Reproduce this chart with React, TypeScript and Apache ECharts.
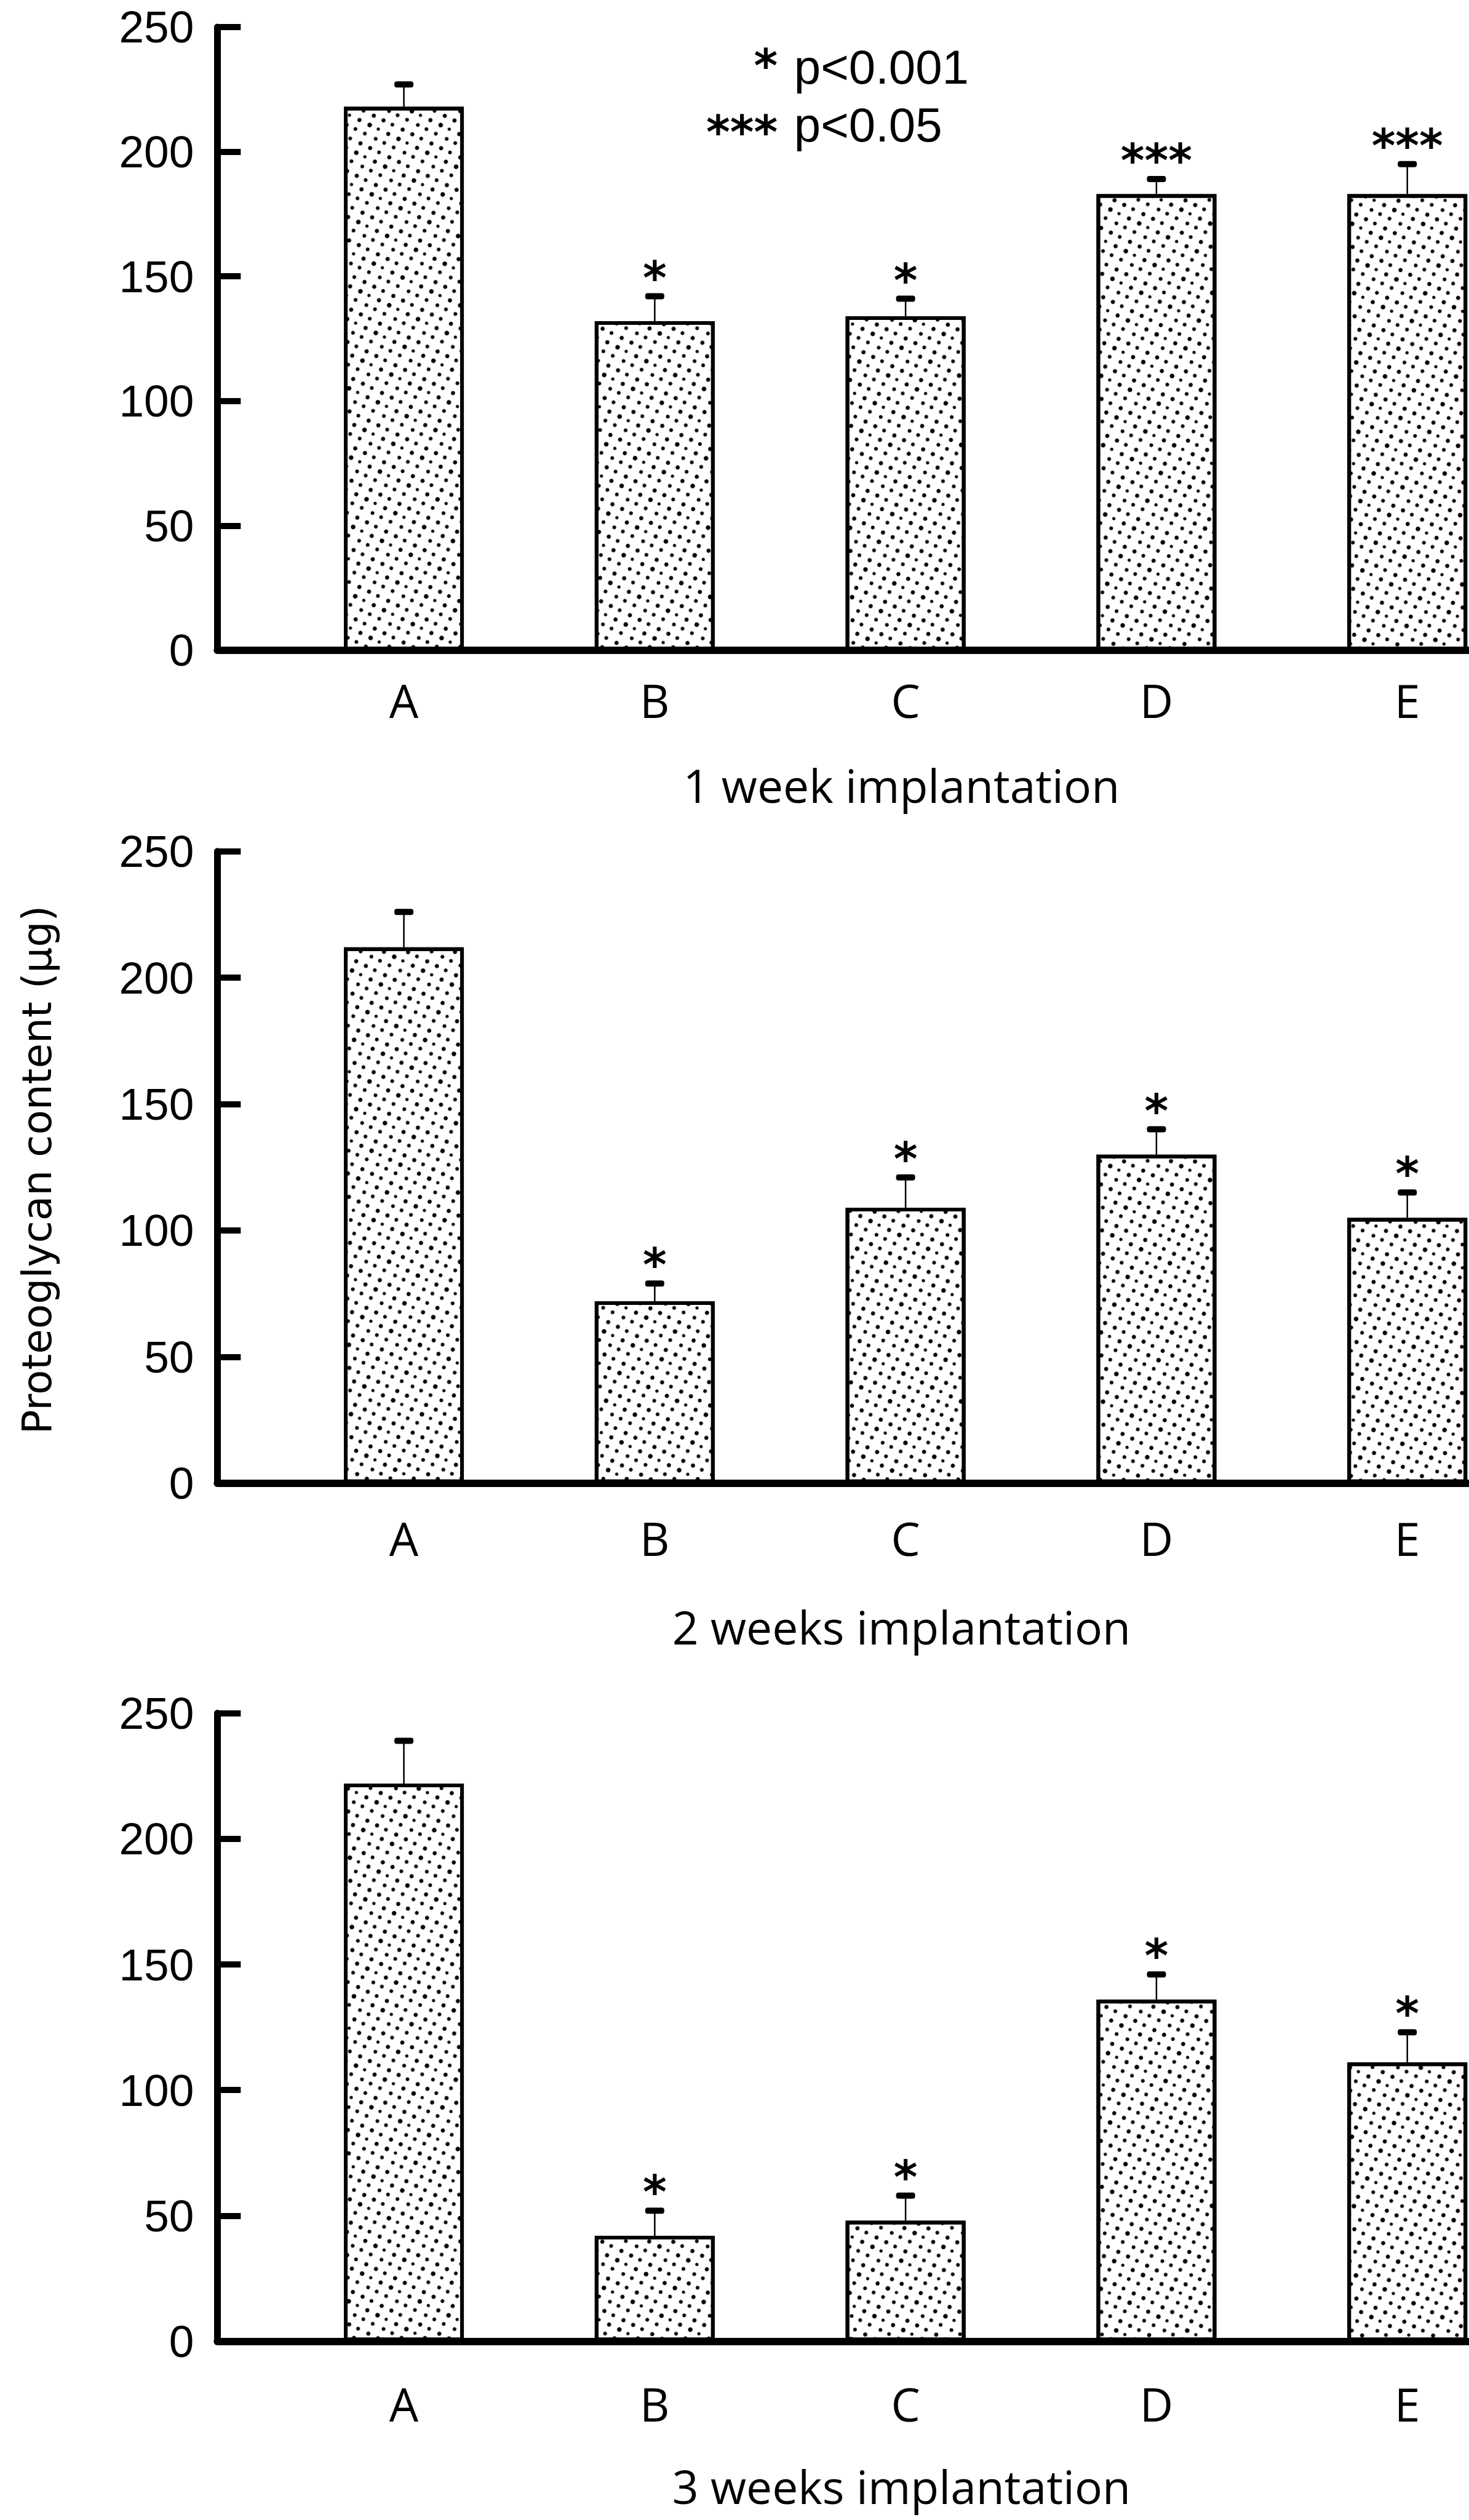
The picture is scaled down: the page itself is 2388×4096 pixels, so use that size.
import React, { useEffect, useRef } from 'react';
import * as echarts from 'echarts';

// ---------- data ----------
const categories = ['A', 'B', 'C', 'D', 'E'];

const week1Means = [218, 132, 134, 183, 183];
const week1Upper = [227, 142, 141, 189, 195];
const week1Stars = ['', '*', '*', '***', '***'];

const week2Means = [212, 72, 109, 130, 105];
const week2Upper = [226, 79, 121, 140, 115];
const week2Stars = ['', '*', '*', '*', '*'];

const week3Means = [222, 42, 48, 136, 111];
const week3Upper = [239, 52, 58, 146, 123];
const week3Stars = ['', '*', '*', '*', '*'];

const panelTitles = ['1 week implantation', '2 weeks implantation', '3 weeks implantation'];
const yAxisTitle = 'Proteoglycan content (\u03bcg)';
const legendStars = ['*', '***'];
const legendTexts = ['p<0.001', 'p<0.05'];
const yMin = 0;
const yMax = 250;
const yInterval = 50;

// ---------- layout (reference px, scaled) ----------
const S = 0.6188;
const W = 2388;
const H = 4096;
const AXIS_X = 571;
const CAT0 = 1061;
const CAT_STEP = 659;
const XMIN = -(CAT0 - AXIS_X) / CAT_STEP;
const XMAX = XMIN + (W / S - AXIS_X) / CAT_STEP;

const panels = [
  { top: 71, bottom: 1708, labelDist: 44, titleY: 2062, means: week1Means, upper: week1Upper, stars: week1Stars },
  { top: 2236, bottom: 3896, labelDist: 52, titleY: 4272, means: week2Means, upper: week2Upper, stars: week2Stars },
  { top: 4500, bottom: 6150, labelDist: 64, titleY: 6530, means: week3Means, upper: week3Upper, stars: week3Stars },
];

const STAR_FONT = 'bold 74px "DejaVu Sans"';
const STAR_SHIFT = 14;

function makeDecal() {
  return {
    symbol: 'circle',
    symbolSize: 0.68,
    color: '#000',
    backgroundColor: '#fff',
    dashArrayX: [
      [10, 7, 11, 6, 9, 9],
      [11, 6, 8, 9, 10, 8],
      [9, 10, 10, 6, 9, 8],
    ],
    dashArrayY: [10, 6, 11, 6, 9, 8],
    rotation: 0.45,
  };
}

function makeErrRender(stars: string[]) {
  return (params: any, api: any) => {
    const x = api.value(0);
    const p0 = api.coord([x, api.value(1)]);
    const p1 = api.coord([x, api.value(2)]);
    return {
      type: 'group',
      children: [
        {
          type: 'line',
          shape: { x1: p0[0], y1: p0[1], x2: p1[0], y2: p1[1] },
          style: { stroke: '#000', lineWidth: 2.5 },
        },
        {
          type: 'rect',
          shape: { x: p1[0] - 15.5, y: p1[1] - 5, width: 31, height: 10, r: 4 },
          style: { fill: '#000' },
        },
        {
          type: 'text',
          x: p1[0],
          y: p1[1] - 44 + STAR_SHIFT,
          style: {
            text: stars[params.dataIndex],
            fill: '#000',
            font: STAR_FONT,
            align: 'center',
            verticalAlign: 'middle',
            textAlign: 'center',
            textVerticalAlign: 'middle',
          },
        },
      ],
    };
  };
}

function buildOption() {
  const grid = panels.map((p) => ({
    left: AXIS_X * S,
    right: 0,
    top: p.top * S,
    height: (p.bottom - p.top) * S,
  }));

  const xAxis = panels.map((p, i) => ({
    type: 'value',
    gridIndex: i,
    min: XMIN,
    max: XMAX,
    axisLine: { show: true, onZero: false, lineStyle: { color: '#000', width: 12 } },
    axisTick: { show: false },
    axisLabel: { show: false },
    splitLine: { show: false },
  }));

  const yAxis = panels.map((p, i) => ({
    type: 'value',
    gridIndex: i,
    min: yMin,
    max: yMax,
    interval: yInterval,
    axisLine: { show: true, onZero: false, lineStyle: { color: '#000', width: 11 } },
    axisTick: { show: true, inside: true, length: 38, lineStyle: { color: '#000', width: 10 } },
    axisLabel: {
      show: true,
      margin: 38,
      color: '#000',
      fontFamily: '"Liberation Sans", Arial, sans-serif',
      fontSize: 73,
    },
    splitLine: { show: false },
  }));

  const series: any[] = [];
  panels.forEach((p, i) => {
    series.push({
      type: 'bar',
      xAxisIndex: i,
      yAxisIndex: i,
      barWidth: 195,
      silent: true,
      data: p.means.map((v, k) => [k, v]),
      itemStyle: { color: '#fff', borderColor: '#000', borderWidth: 6, decal: makeDecal() },
      label: {
        show: true,
        position: 'bottom',
        distance: p.labelDist,
        formatter: (prm: any) => categories[prm.dataIndex],
        color: '#000',
        fontFamily: '"Open Sans", sans-serif',
        fontSize: 75,
      },
    });
    series.push({
      type: 'custom',
      xAxisIndex: i,
      yAxisIndex: i,
      silent: true,
      z: 5,
      clip: false,
      data: p.means.map((v, k) => [k, v, p.upper[k]]),
      encode: { x: 0, y: [1, 2] },
      renderItem: makeErrRender(p.stars),
    });
  });

  const graphic: any[] = [];
  panelTitles.forEach((t, i) => {
    graphic.push({
      type: 'text',
      x: 2368 * S,
      y: panels[i].titleY * S,
      style: {
        text: t,
        fill: '#000',
        font: '75px "Open Sans"',
        lineHeight: 78,
        align: 'center',
        verticalAlign: 'middle',
        textAlign: 'center',
        textVerticalAlign: 'middle',
      },
    });
  });
  // y-axis title (middle panel)
  graphic.push({
    type: 'text',
    x: 97 * S,
    y: 3073 * S,
    rotation: Math.PI / 2,
    style: {
      text: yAxisTitle,
      fill: '#000',
      font: '66px "DejaVu Sans"',
      align: 'center',
      verticalAlign: 'middle',
      textAlign: 'center',
      textVerticalAlign: 'middle',
    },
  });
  const legStarY = [150, 325];
  const legTextY = [176, 328];
  legendStars.forEach((st, i) => {
    graphic.push({
      type: 'text',
      x: 2043 * S,
      y: legStarY[i] * S + STAR_SHIFT,
      style: {
        text: st,
        fill: '#000',
        font: STAR_FONT,
        align: 'right',
        verticalAlign: 'middle',
        textAlign: 'right',
        textVerticalAlign: 'middle',
      },
    });
    graphic.push({
      type: 'text',
      x: 2086 * S,
      y: legTextY[i] * S,
      style: {
        text: legendTexts[i],
        fill: '#000',
        font: '78px "Liberation Sans"',
        align: 'left',
        verticalAlign: 'middle',
        textAlign: 'left',
        textVerticalAlign: 'middle',
      },
    });
  });

  return {
    animation: false,
    backgroundColor: '#fff',
    grid,
    xAxis,
    yAxis,
    series,
    graphic,
  };
}

export default function App() {
  const ref = useRef<HTMLDivElement>(null);
  useEffect(() => {
    if (!ref.current) return;
    const chart = echarts.init(ref.current, null, { renderer: 'svg' });
    chart.setOption(buildOption() as any);
    return () => chart.dispose();
  }, []);
  return (
    <div
      ref={ref}
      style={{ position: 'absolute', left: 0, top: 0, width: W, height: H, background: '#fff' }}
    />
  );
}
